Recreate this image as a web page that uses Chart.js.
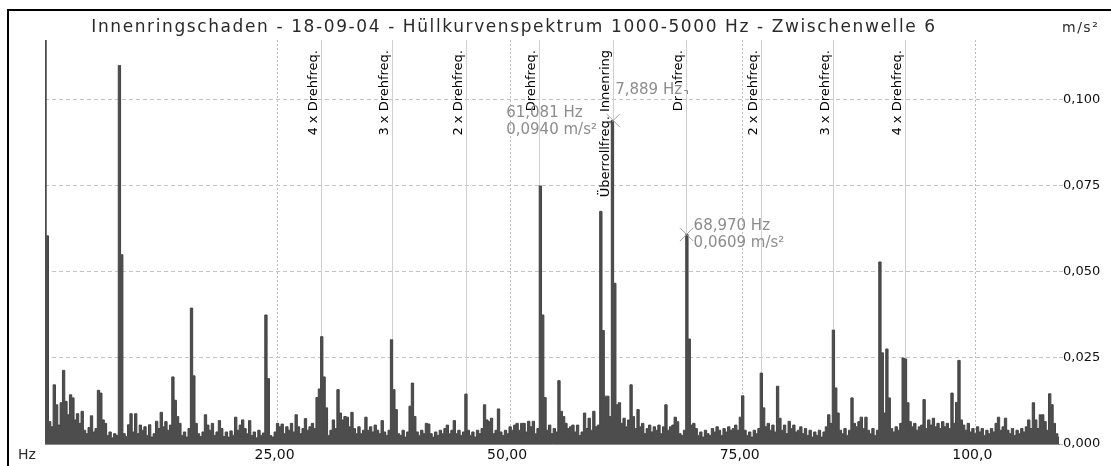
<!DOCTYPE html>
<html>
<head>
<meta charset="utf-8">
<script src="https://cdn.jsdelivr.net/npm/chart.js@4.4.0/dist/chart.umd.min.js"></script>
<style>
  html, body { margin: 0; padding: 0; background: #fff; }
  #wrap { width: 1111px; height: 466px; }
</style>
</head>
<body>
<div id="wrap"><canvas id="spectrum" width="1111" height="466"></canvas></div>
<script>
const titleText = 'Innenringschaden - 18-09-04 - Hüllkurvenspektrum 1000-5000 Hz - Zwischenwelle 6';
const xUnit = 'Hz';
const yUnit = 'm/s²';

// envelope spectrum, one value per 0.25 Hz bin (m/s²)
const binWidth = 0.25;
const amplitudes = [
    0.1210, 0.0605, 0.0065, 0.0050, 0.0172, 0.0114, 0.0055, 0.0120, 0.0214, 0.0124, 0.0085, 0.0143, 0.0134, 0.0070, 0.0088, 0.0060, 0.0095, 0.0040, 0.0030, 0.0048,
    0.0082, 0.0035, 0.0045, 0.0156, 0.0148, 0.0070, 0.0060, 0.0025, 0.0035, 0.0018, 0.0030, 0.0025, 0.1100, 0.0550, 0.0030, 0.0022, 0.0056, 0.0088, 0.0035, 0.0088,
    0.0030, 0.0055, 0.0040, 0.0050, 0.0025, 0.0056, 0.0020, 0.0030, 0.0066, 0.0045, 0.0092, 0.0050, 0.0065, 0.0040, 0.0055, 0.0195, 0.0127, 0.0080, 0.0060, 0.0025,
    0.0035, 0.0020, 0.0045, 0.0395, 0.0198, 0.0060, 0.0030, 0.0022, 0.0035, 0.0085, 0.0055, 0.0040, 0.0060, 0.0025, 0.0035, 0.0068, 0.0045, 0.0022, 0.0035, 0.0020,
    0.0038, 0.0025, 0.0078, 0.0040, 0.0055, 0.0070, 0.0045, 0.0030, 0.0068, 0.0025, 0.0035, 0.0018, 0.0040, 0.0025, 0.0032, 0.0375, 0.0190, 0.0025, 0.0020, 0.0035,
    0.0060, 0.0050, 0.0058, 0.0030, 0.0050, 0.0040, 0.0060, 0.0035, 0.0085, 0.0050, 0.0030, 0.0045, 0.0074, 0.0040, 0.0050, 0.0060, 0.0045, 0.0135, 0.0160, 0.0312,
    0.0195, 0.0105, 0.0025, 0.0040, 0.0070, 0.0045, 0.0158, 0.0090, 0.0070, 0.0080, 0.0078, 0.0050, 0.0092, 0.0045, 0.0030, 0.0050, 0.0030, 0.0040, 0.0078, 0.0040,
    0.0050, 0.0035, 0.0055, 0.0040, 0.0030, 0.0068, 0.0035, 0.0025, 0.0040, 0.0303, 0.0158, 0.0100, 0.0030, 0.0025, 0.0040, 0.0020, 0.0035, 0.0110, 0.0177, 0.0080,
    0.0035, 0.0025, 0.0040, 0.0030, 0.0060, 0.0058, 0.0030, 0.0020, 0.0035, 0.0025, 0.0040, 0.0030, 0.0045, 0.0055, 0.0030, 0.0040, 0.0068, 0.0030, 0.0040, 0.0025,
    0.0035, 0.0145, 0.0040, 0.0025, 0.0035, 0.0020, 0.0040, 0.0030, 0.0045, 0.0114, 0.0070, 0.0065, 0.0075, 0.0030, 0.0040, 0.0102, 0.0035, 0.0025, 0.0040, 0.0030,
    0.0050, 0.0040, 0.0055, 0.0060, 0.0040, 0.0060, 0.0060, 0.0035, 0.0066, 0.0050, 0.0066, 0.0030, 0.0045, 0.0750, 0.0375, 0.0135, 0.0040, 0.0055, 0.0030, 0.0045,
    0.0035, 0.0184, 0.0095, 0.0080, 0.0060, 0.0045, 0.0050, 0.0055, 0.0035, 0.0055, 0.0025, 0.0035, 0.0090, 0.0045, 0.0075, 0.0040, 0.0095, 0.0050, 0.0055, 0.0676,
    0.0330, 0.0139, 0.0139, 0.0080, 0.0940, 0.0467, 0.0114, 0.0120, 0.0060, 0.0075, 0.0050, 0.0070, 0.0172, 0.0080, 0.0045, 0.0100, 0.0050, 0.0060, 0.0030, 0.0045,
    0.0055, 0.0035, 0.0050, 0.0040, 0.0055, 0.0030, 0.0050, 0.0114, 0.0040, 0.0050, 0.0055, 0.0078, 0.0065, 0.0030, 0.0025, 0.0040, 0.0609, 0.0305, 0.0055, 0.0060,
    0.0045, 0.0025, 0.0035, 0.0020, 0.0040, 0.0030, 0.0025, 0.0045, 0.0035, 0.0050, 0.0040, 0.0025, 0.0045, 0.0035, 0.0050, 0.0040, 0.0045, 0.0055, 0.0040, 0.0078,
    0.0140, 0.0040, 0.0025, 0.0035, 0.0020, 0.0040, 0.0030, 0.0045, 0.0206, 0.0105, 0.0050, 0.0060, 0.0040, 0.0055, 0.0035, 0.0168, 0.0075, 0.0040, 0.0055, 0.0030,
    0.0066, 0.0045, 0.0055, 0.0035, 0.0040, 0.0050, 0.0030, 0.0045, 0.0025, 0.0040, 0.0020, 0.0035, 0.0025, 0.0040, 0.0020, 0.0035, 0.0050, 0.0085, 0.0060, 0.0331,
    0.0163, 0.0090, 0.0040, 0.0030, 0.0045, 0.0025, 0.0040, 0.0134, 0.0060, 0.0050, 0.0065, 0.0078, 0.0045, 0.0078, 0.0040, 0.0030, 0.0045, 0.0025, 0.0040, 0.0529,
    0.0265, 0.0090, 0.0276, 0.0134, 0.0045, 0.0035, 0.0050, 0.0040, 0.0060, 0.0250, 0.0247, 0.0120, 0.0065, 0.0050, 0.0060, 0.0040, 0.0050, 0.0055, 0.0129, 0.0045,
    0.0070, 0.0055, 0.0075, 0.0050, 0.0060, 0.0045, 0.0065, 0.0050, 0.0060, 0.0045, 0.0148, 0.0060, 0.0121, 0.0243, 0.0070, 0.0055, 0.0040, 0.0060, 0.0035, 0.0045,
    0.0030, 0.0050, 0.0035, 0.0045, 0.0025, 0.0040, 0.0030, 0.0045, 0.0035, 0.0060, 0.0078, 0.0040, 0.0050, 0.0075, 0.0040, 0.0030, 0.0045, 0.0025, 0.0040, 0.0030,
    0.0045, 0.0035, 0.0050, 0.0070, 0.0045, 0.0120, 0.0070, 0.0045, 0.0085, 0.0085, 0.0065, 0.0040, 0.0146, 0.0114, 0.0060, 0.0030, 0.0020
];

const xMax = 109;
const yMax = 0.1174;
const xTickValues = [25, 50, 75, 100];
const xTickLabels = ['25,00', '50,00', '75,00', '100,0'];
const yTickValues = [0, 0.025, 0.05, 0.075, 0.1];
const yTickLabels = ['0,000', '0,025', '0,050', '0,075', '0,100'];

// kinematic frequencies marked in the plot
const markerHz = [29.65, 37.35, 45.3, 53.15, 61.05, 68.95, 76.95, 84.7, 92.4];
const markerLabels = [
    '4 x Drehfreq.', '3 x Drehfreq.', '2 x Drehfreq.', 'Drehfreq.',
    'Überrollfreq. Innenring',
    'Drehfreq.', '2 x Drehfreq.', '3 x Drehfreq.', '4 x Drehfreq.'
];

// two cursors and their difference
const cursorHz = [61.081, 68.970];
const cursorValues = [0.0940, 0.0609];
const cursorLabels = [['61,081 Hz', '0,0940 m/s²'], ['68,970 Hz', '0,0609 m/s²']];
const deltaLabel = '7,889 Hz';

const font = '"DejaVu Sans", sans-serif';

const overlay = {
    id: 'overlay',
    beforeDatasetsDraw(chart) {
        const { ctx, chartArea: area, scales: { x } } = chart;
        ctx.save();
        ctx.strokeStyle = '#d0d0d0';
        ctx.lineWidth = 1;
        markerHz.forEach((hz) => {
            const px = Math.round(x.getPixelForValue(hz)) + 0.5;
            ctx.beginPath();
            ctx.moveTo(px, area.top);
            ctx.lineTo(px, area.bottom);
            ctx.stroke();
        });
        ctx.restore();
    },
    afterDatasetsDraw(chart) {
        const { ctx, chartArea: area, scales: { x, y } } = chart;
        ctx.save();
        // rotated marker labels
        ctx.font = `13px ${font}`;
        ctx.fillStyle = '#000';
        ctx.textAlign = 'right';
        ctx.textBaseline = 'alphabetic';
        markerHz.forEach((hz, i) => {
            const px = x.getPixelForValue(hz);
            ctx.save();
            ctx.translate(px - 4, area.top + 10);
            ctx.rotate(-Math.PI / 2);
            ctx.fillText(markerLabels[i], 0, 0);
            ctx.restore();
        });

        // cursor readouts
        ctx.font = `15px ${font}`;
        ctx.fillStyle = '#8c8c8c';
        ctx.textBaseline = 'middle';
        const c1x = x.getPixelForValue(cursorHz[0]);
        const c1y = y.getPixelForValue(cursorValues[0]);
        const c2x = x.getPixelForValue(cursorHz[1]);
        const c2y = y.getPixelForValue(cursorValues[1]);
        ctx.textAlign = 'left';
        ctx.fillText(cursorLabels[0][0], c1x - 107, c1y - 7);
        ctx.fillText(cursorLabels[0][1], c1x - 107, c1y + 10);
        ctx.fillText(cursorLabels[1][0], c2x + 7, c2y - 8);
        ctx.fillText(cursorLabels[1][1], c2x + 7, c2y + 9);

        // delta between the cursors
        const dy = area.top + 50;
        const w = ctx.measureText(deltaLabel).width;
        ctx.fillStyle = '#fff';
        ctx.fillRect(c1x + 1, dy - 6, w + 4, 12);
        ctx.fillStyle = '#8c8c8c';
        ctx.fillText(deltaLabel, c1x + 2, dy);
        ctx.strokeStyle = '#8c8c8c';
        ctx.lineWidth = 1;
        ctx.beginPath();
        ctx.moveTo(c1x + w + 4, Math.round(dy) + 0.5);
        ctx.lineTo(Math.round(c2x) + 0.5, Math.round(dy) + 0.5);
        ctx.lineTo(Math.round(c2x) + 0.5, dy + 4);
        ctx.stroke();
        ctx.restore();
    },
    afterDraw(chart) {
        const { ctx } = chart;
        ctx.save();
        ctx.fillStyle = '#000';
        ctx.fillRect(7, 9, 2, 457);
        ctx.fillRect(7, 9, 1104, 2);

        ctx.fillStyle = '#2a2a2a';
        ctx.textBaseline = 'alphabetic';
        ctx.textAlign = 'center';
        ctx.font = `17px ${font}`;
        ctx.letterSpacing = '1.6px';
        ctx.fillText(titleText, 514, 32);

        ctx.font = `14px ${font}`;
        ctx.letterSpacing = '1.5px';
        ctx.textAlign = 'left';
        ctx.fillText(yUnit, 1062, 32);
        ctx.font = `14px ${font}`;
        ctx.letterSpacing = '0px';
        ctx.fillText(xUnit, 18, 459);
        ctx.restore();
    }
};

new Chart(document.getElementById('spectrum'), {
    type: 'line',
    data: {
        datasets: [
            {
                type: 'scatter',
                data: cursorHz.map((hz, i) => ({ x: hz, y: cursorValues[i] })),
                pointStyle: 'crossRot',
                pointRadius: 9.5,
                pointBorderColor: '#a0a0a0',
                pointBorderWidth: 1,
                showLine: false
            },
            {
                data: amplitudes.map((v, i) => ({ x: i * binWidth, y: v })),
                borderColor: '#444444',
                backgroundColor: '#4d4d4d',
                borderWidth: 1,
                pointRadius: 0,
                stepped: 'middle',
                fill: 'origin'
            }
        ]
    },
    options: {
        responsive: false,
        animation: false,
        devicePixelRatio: 1,
        layout: { padding: { left: 45, top: 40, right: 0, bottom: 0 } },
        plugins: {
            legend: { display: false },
            title: { display: false },
            tooltip: { enabled: false }
        },
        scales: {
            x: {
                type: 'linear',
                min: 0,
                max: xMax,
                afterFit(scale) { scale.height = 22; },
                afterBuildTicks(scale) { scale.ticks = xTickValues.map((v) => ({ value: v })); },
                grid: { color: '#bdbdbd', drawTicks: false },
                border: { display: true, color: '#8a8a8a', dash: [2, 2] },
                ticks: {
                    callback: (v, i) => xTickLabels[i],
                    font: { family: font, size: 14 },
                    color: '#111',
                    padding: 3,
                    labelOffset: -3,
                    maxRotation: 0,
                    autoSkip: false
                }
            },
            y: {
                position: 'right',
                min: 0,
                max: yMax,
                afterFit(scale) { scale.width = 52; },
                afterBuildTicks(scale) { scale.ticks = yTickValues.map((v) => ({ value: v })); },
                grid: { color: '#c4c4c4', tickLength: 4 },
                border: { display: false, dash: [4, 3] },
                ticks: {
                    callback: (v, i) => yTickLabels[i],
                    font: { family: font, size: 13 },
                    color: '#111',
                    padding: 0
                }
            }
        }
    },
    plugins: [overlay]
});
</script>
</body>
</html>
